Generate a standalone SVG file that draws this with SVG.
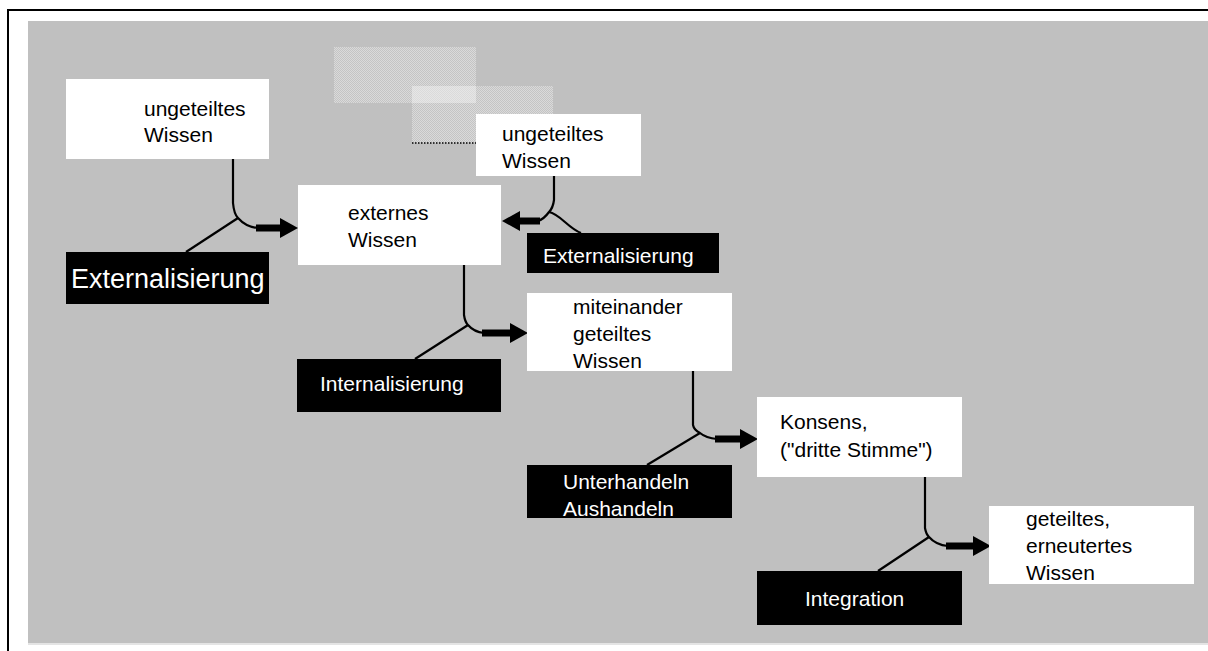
<svg xmlns="http://www.w3.org/2000/svg" width="1208" height="651" viewBox="0 0 1208 651">
<defs>
<style>
.wb{fill:#ffffff}
.bb{fill:#000000}
.wt{font-family:"Liberation Sans",Arial,sans-serif;font-size:21px;fill:#000}
.bt{font-family:"Liberation Sans",Arial,sans-serif;font-size:21px;fill:#fff}
.ln{fill:none;stroke:#000;stroke-width:2.2}
.sh{fill:none;stroke:#000;stroke-width:7}
</style>
<pattern id="hatch" width="2" height="2" patternUnits="userSpaceOnUse">
<rect width="2" height="2" fill="#dadada"/>
<rect width="1" height="1" fill="#c4c4c4"/>
<rect x="1" y="1" width="1" height="1" fill="#c4c4c4"/>
</pattern>
<pattern id="hatch2" width="2" height="2" patternUnits="userSpaceOnUse">
<rect width="2" height="2" fill="#e6e6e6"/>
<rect width="1" height="1" fill="#dadada"/>
<rect x="1" y="1" width="1" height="1" fill="#dadada"/>
</pattern>
<marker id="ah" markerUnits="userSpaceOnUse" markerWidth="20" markerHeight="22" refX="0" refY="10" orient="auto">
<path d="M0,0 L18,10 L0,20 Z" fill="#000"/>
</marker>
</defs>
<rect width="1208" height="651" fill="#ffffff"/>
<path d="M8,651 V10 H1208" fill="none" stroke="#000" stroke-width="2"/>
<rect x="28" y="21" width="1180" height="622" fill="#c0c0c0"/>
<rect x="28" y="643" width="1180" height="2" fill="#e4e4e4"/>

<g id="shadows">
<rect x="334" y="47" width="142" height="56" fill="url(#hatch)"/>
<rect x="412" y="86" width="141" height="57" fill="url(#hatch)"/>
<rect x="412" y="86" width="64" height="17" fill="url(#hatch2)"/>
<line x1="412" y1="143" x2="476" y2="143" stroke="#000" stroke-width="1.5" stroke-dasharray="1.5,1.5"/>
</g>

<g id="connectors">
<path class="ln" d="M233,159 V203 Q234,214 238,218 Q246,227 258,228"/>
<path class="ln" d="M186,252 L238,218"/>
<line class="sh" x1="256" y1="228" x2="280" y2="228" marker-end="url(#ah)"/>

<path class="ln" d="M554,176 V200 Q553,208 549,212 Q544,219 538,221"/>
<path class="ln" d="M549,212 C560,214 568,228 581,233"/>
<line class="sh" x1="540" y1="221" x2="520" y2="221" marker-end="url(#ah)"/>

<path class="ln" d="M464,265 V315 Q465,322 468,325 Q474,332 484,333"/>
<path class="ln" d="M415,359 L468,325"/>
<line class="sh" x1="482" y1="333" x2="510" y2="333" marker-end="url(#ah)"/>

<path class="ln" d="M693,371 V425 Q694,430 700,433 Q706,438 717,439"/>
<path class="ln" d="M647,465 L700,433"/>
<line class="sh" x1="715" y1="439" x2="740" y2="439" marker-end="url(#ah)"/>

<path class="ln" d="M925,477 V528 Q926,534 929,537 Q936,545 948,546"/>
<path class="ln" d="M878,571 L929,537"/>
<line class="sh" x1="946" y1="546" x2="973" y2="546" marker-end="url(#ah)"/>
</g>

<g id="n1">
<rect class="wb" x="66" y="79" width="203" height="80"/>
<text class="wt" x="144" y="116">ungeteiltes</text>
<text class="wt" x="144" y="142">Wissen</text>
</g>
<g id="ext1">
<rect class="bb" x="66" y="252" width="203" height="52"/>
<text class="bt" x="71" y="288" style="font-size:27px">Externalisierung</text>
</g>
<g id="n2">
<rect class="wb" x="298" y="185" width="203" height="80"/>
<text class="wt" x="348" y="220">externes</text>
<text class="wt" x="348" y="247">Wissen</text>
</g>
<g id="n3">
<rect class="wb" x="476" y="114" width="165" height="62"/>
<text class="wt" x="502" y="141">ungeteiltes</text>
<text class="wt" x="502" y="168">Wissen</text>
</g>
<g id="ext2">
<rect class="bb" x="527" y="233" width="192" height="40"/>
<text class="bt" x="543" y="263">Externalisierung</text>
</g>
<g id="int">
<rect class="bb" x="297" y="359" width="204" height="53"/>
<text class="bt" x="320" y="391">Internalisierung</text>
</g>
<g id="n4">
<rect class="wb" x="527" y="293" width="205" height="78"/>
<text class="wt" x="573" y="314">miteinander</text>
<text class="wt" x="573" y="341">geteiltes</text>
<text class="wt" x="573" y="368">Wissen</text>
</g>
<g id="unter">
<rect class="bb" x="527" y="465" width="205" height="53"/>
<text class="bt" x="563" y="489">Unterhandeln</text>
<text class="bt" x="563" y="516">Aushandeln</text>
</g>
<g id="n5">
<rect class="wb" x="757" y="397" width="205" height="80"/>
<text class="wt" x="780" y="429">Konsens,</text>
<text class="wt" x="780" y="457">("dritte Stimme")</text>
</g>
<g id="integ">
<rect class="bb" x="757" y="571" width="205" height="54"/>
<text class="bt" x="805" y="606">Integration</text>
</g>
<g id="n6">
<rect class="wb" x="989" y="506" width="205" height="78"/>
<text class="wt" x="1026" y="526">geteiltes,</text>
<text class="wt" x="1026" y="553">erneutertes</text>
<text class="wt" x="1026" y="580">Wissen</text>
</g>
</svg>
